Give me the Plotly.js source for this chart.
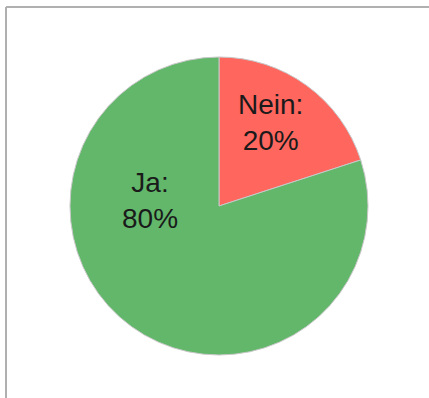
<!DOCTYPE html>
<html>
<head>
<meta charset="utf-8">
<script src="https://cdn.plot.ly/plotly-3.0.1.min.js"></script>
<style>
html,body{margin:0;padding:0;background:#fff;}
#chart{width:429px;height:398px;}
</style>
</head>
<body>
<div id="chart"></div>
<script>
const labels = ["Nein", "Ja"];
const values = [20, 80];
const colors = ["#ff665e", "#62b76b"];
const labelPos = [[0.630, 0.693], [0.350, 0.495]];

const total = values.reduce((a, b) => a + b, 0);

const trace = {
  type: "pie",
  labels: labels,
  values: values,
  sort: false,
  direction: "clockwise",
  rotation: 0,
  textinfo: "none",
  hoverinfo: "label+percent",
  marker: {colors: colors, line: {color: "#c8c8c8", width: 1}},
  domain: {x: [70/429, 368/429], y: [43/398, 341/398]},
  showlegend: false
};

const annotations = labels.map((l, i) => ({
  xref: "paper", yref: "paper",
  x: labelPos[i][0], y: labelPos[i][1],
  xanchor: "center", yanchor: "middle",
  showarrow: false,
  align: "center",
  text: l + ":<br>" + Math.round(values[i] / total * 100) + "%",
  font: {family: "Liberation Sans, Arial, sans-serif", size: 28, color: "#1a1a1a"}
}));

const layout = {
  width: 429, height: 398,
  margin: {l: 0, r: 0, t: 0, b: 0},
  paper_bgcolor: "#ffffff",
  annotations: annotations,
  shapes: [
    {type: "line", xref: "paper", yref: "paper", x0: 6/429, x1: 1.01, y0: 1 - 7/398, y1: 1 - 7/398, line: {color: "#b0b0b0", width: 2}},
    {type: "line", xref: "paper", yref: "paper", x0: 6/429, x1: 6/429, y0: 1 - 7/398, y1: -0.01, line: {color: "#b0b0b0", width: 2}}
  ]
};

Plotly.newPlot("chart", [trace], layout, {displayModeBar: false, staticPlot: true});
</script>
</body>
</html>
